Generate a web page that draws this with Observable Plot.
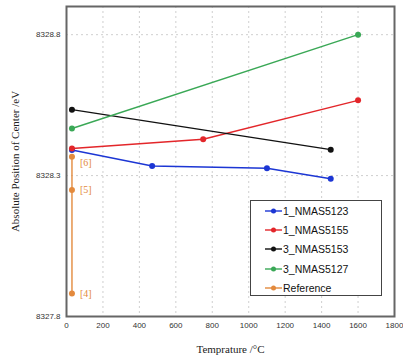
<!DOCTYPE html>
<html>
<head>
<meta charset="utf-8">
<script src="https://cdn.jsdelivr.net/npm/d3@7"></script>
<script src="https://cdn.jsdelivr.net/npm/@observablehq/plot@0.6"></script>
<style>
  html, body { margin: 0; padding: 0; background: #fff; }
  #wrap { position: relative; width: 403px; height: 356px; }
  #legend { position: absolute; left: 250px; top: 200px; width: 132px; height: 96px;
    border: 1px solid #444; background: #fff; box-sizing: border-box;
    font-family: "Liberation Sans", Arial, sans-serif; font-size: 10.5px; color: #111; }
  .item { position: absolute; left: 14px; display: flex; align-items: center; height: 14px; }
  .item svg { margin-right: 1px; }
</style>
</head>
<body>
<div id="wrap"></div>
<script>
// Series (temperature °C, absolute position of center eV)
const seriesNames = ["1_NMAS5123", "1_NMAS5155", "3_NMAS5153", "3_NMAS5127", "Reference"];
const seriesColors = ["#1c36d4", "#e3262a", "#111111", "#3aa856", "#e38a3d"];
const x_NMAS5123 = [30, 470, 1100, 1450];
const y_NMAS5123 = [8328.391, 8328.334, 8328.326, 8328.289];
const x_NMAS5155 = [30, 750, 1600];
const y_NMAS5155 = [8328.396, 8328.429, 8328.567];
const x_NMAS5153 = [30, 1450];
const y_NMAS5153 = [8328.534, 8328.392];
const x_NMAS5127 = [30, 1600];
const y_NMAS5127 = [8328.467, 8328.800];
const x_Reference = [30, 30, 30];
const y_Reference = [8328.367, 8328.249, 8327.882];
const refLabels = ["[6]", "[5]", "[4]"];

const xTicks = [0, 200, 400, 600, 800, 1000, 1200, 1400, 1600, 1800];
const yTicks = [8327.8, 8328.3, 8328.8];

const xs = [x_NMAS5123, x_NMAS5155, x_NMAS5153, x_NMAS5127, x_Reference];
const ys = [y_NMAS5123, y_NMAS5155, y_NMAS5153, y_NMAS5127, y_Reference];
const data = [];
seriesNames.forEach((name, i) => {
  xs[i].forEach((x, j) => data.push({series: name, x, y: ys[i][j], label: name === "Reference" ? refLabels[j] : ""}));
});
const refData = data.filter(d => d.series === "Reference");

const chart = Plot.plot({
  width: 403,
  height: 356,
  marginLeft: 66,
  marginRight: 9,
  marginTop: 6,
  marginBottom: 40,
  style: {fontFamily: "'Liberation Sans', Arial, sans-serif", fontSize: "8px", color: "#333", background: "#fff"},
  x: {domain: [0, 1800], ticks: xTicks, tickSize: 0, tickPadding: 6, tickFormat: d => String(d),
      label: "Temprature /°C", labelAnchor: "center", labelArrow: "none", labelOffset: 36},
  y: {domain: [8327.8, 8328.9], ticks: yTicks, tickSize: 0, tickPadding: 6, tickFormat: d => d.toFixed(1),
      label: "Absolute Position of Center /eV", labelAnchor: "center", labelArrow: "none", labelOffset: 55},
  color: {domain: seriesNames, range: seriesColors},
  marks: [
    Plot.gridX(xTicks, {stroke: "#bbb", strokeOpacity: 0.7, strokeDasharray: "2,3"}),
    Plot.gridY(yTicks, {stroke: "#bbb", strokeOpacity: 0.7, strokeDasharray: "2,3"}),
    Plot.line(data, {x: "x", y: "y", z: "series", stroke: "series", strokeWidth: 1.4}),
    Plot.dot(data, {x: "x", y: "y", fill: "series", r: 3}),
    Plot.text(refData.filter(d => d.label !== "[6]"), {x: "x", y: "y", text: "label", fill: "#e38a3d", dx: 8, textAnchor: "start", fontSize: 10, fontFamily: "'Liberation Serif', serif"}),
    Plot.text(refData.filter(d => d.label === "[6]"), {x: "x", y: "y", text: "label", fill: "#e38a3d", dx: 8, dy: 6, textAnchor: "start", fontSize: 10, fontFamily: "'Liberation Serif', serif"}),
    Plot.frame({stroke: "#666", strokeWidth: 2})
  ]
});
chart.querySelectorAll('[aria-label="x-axis label"] text, [aria-label="y-axis label"] text, g[aria-label="x-axis label"], g[aria-label="y-axis label"]').forEach(el => {
  el.style.fontFamily = "'Liberation Serif', 'Times New Roman', serif";
  el.style.fontSize = "11px";
  el.style.fill = "#222";
});
const wrap = document.getElementById("wrap");
wrap.appendChild(chart);

const legend = document.createElement("div");
legend.id = "legend";
seriesNames.forEach((name, i) => {
  const item = document.createElement("div");
  item.className = "item";
  item.style.top = (3 + i * 19.2) + "px";
  item.innerHTML = `<svg width="17" height="8"><line x1="0" y1="4" x2="17" y2="4" stroke="${seriesColors[i]}" stroke-width="1.4"/><circle cx="8.5" cy="4" r="2.5" fill="${seriesColors[i]}"/></svg><span>${name}</span>`;
  legend.appendChild(item);
});
wrap.appendChild(legend);
</script>
</body>
</html>
